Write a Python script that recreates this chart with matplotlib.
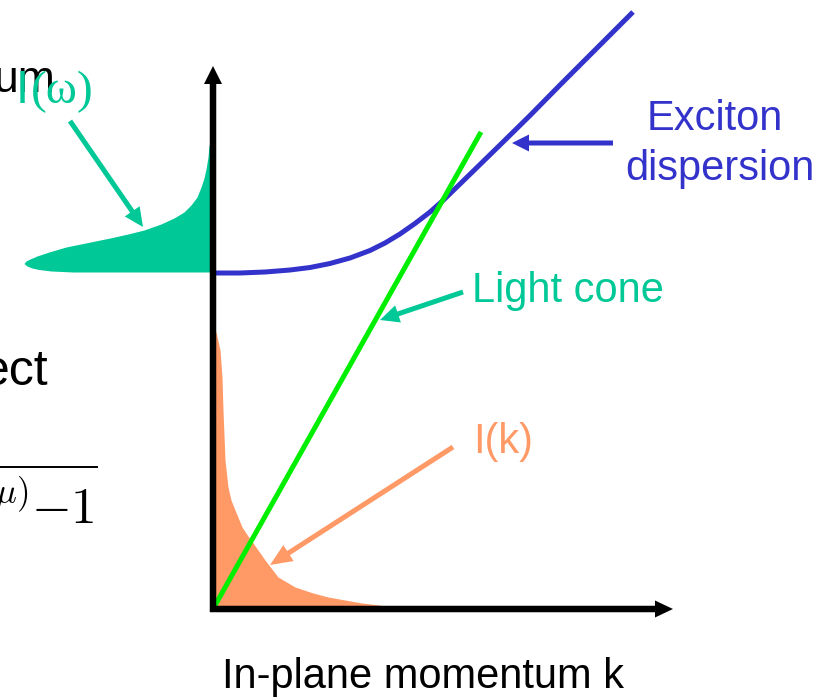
import matplotlib
matplotlib.use('Agg')
from matplotlib import pyplot as plt

plt.rcParams['font.family'] = ['Liberation Sans', 'DejaVu Sans']
plt.rcParams['mathtext.fontset'] = 'cm'

# exciton dispersion E(k), arbitrary units
exciton_k = [0.01, 0.27, 0.52, 0.77, 0.97, 1.17, 1.37, 1.57, 1.72, 1.87, 2.02, 2.17, 2.30,
             2.47, 2.67, 2.87, 3.17, 3.47, 3.87, 4.20]
exciton_e = [3.36, 3.36, 3.37, 3.39, 3.415, 3.455, 3.51, 3.585, 3.66, 3.75, 3.855, 3.97, 4.085,
             4.25, 4.445, 4.64, 4.935, 5.24, 5.64, 5.97]

# light cone E = c k
cone_k = [0.0, 2.68]
cone_e = [0.0, 4.77]

# emission spectrum I(w), drawn sideways against the energy axis
spec_e = [3.37, 3.38, 3.395, 3.41, 3.43, 3.455, 3.48, 3.50, 3.53, 3.57, 3.62, 3.665, 3.71,
          3.75, 3.79, 3.85, 3.91, 3.97, 4.04, 4.12, 4.22, 4.31, 4.40, 4.52, 4.64]
spec_i = [1.40, 1.62, 1.74, 1.81, 1.86, 1.89, 1.87, 1.83, 1.76, 1.64, 1.47, 1.25, 1.03,
          0.85, 0.69, 0.52, 0.39, 0.29, 0.22, 0.16, 0.12, 0.09, 0.07, 0.05, 0.04]

# population I(k) along the momentum axis
pop_k = [0.00, 0.03, 0.07, 0.09, 0.10, 0.12, 0.15, 0.18, 0.22, 0.29, 0.35, 0.40, 0.52, 0.65,
         0.82, 1.00, 1.15, 1.49, 1.82, 2.10]
pop_i = [2.79, 2.77, 2.59, 2.32, 1.99, 1.49, 1.22, 1.09, 0.99, 0.82, 0.73, 0.66, 0.49, 0.32,
         0.22, 0.16, 0.12, 0.06, 0.02, 0.00]

teal = '#00c896'
blue = '#3333cc'
orange = '#ff9966'
lime = '#00ee00'

fig = plt.figure(figsize=(8.35, 6.97), dpi=100)
ax = fig.add_axes([0, 0, 1, 1])
ax.set_xlim(-2.13, 6.22)
ax.set_ylim(-0.88, 6.09)
ax.axis('off')

ax.fill_betweenx(spec_e, [-v for v in spec_i], 0, color=teal, lw=0, zorder=1)
ax.fill_between(pop_k, 0, pop_i, color=orange, lw=0, zorder=1)

ax.plot(exciton_k, exciton_e, color=blue, lw=3.6, solid_capstyle='butt',
        solid_joinstyle='round', zorder=2)
ax.plot(cone_k, cone_e, color=lime, lw=3.6, solid_capstyle='butt', zorder=3)

# axes with arrow heads
ax.arrow(0, -0.03, 0, 5.46, width=0.065, head_width=0.18, head_length=0.18,
         length_includes_head=True, color='black', lw=0, zorder=4)
ax.arrow(-0.03, 0, 4.63, 0, width=0.065, head_width=0.17, head_length=0.18,
         length_includes_head=True, color='black', lw=0, zorder=4)


def pointer(x0, y0, x1, y1, color, hw=0.18, hl=0.19):
    ax.arrow(x0, y0, x1 - x0, y1 - y0, width=0.05, head_width=hw, head_length=hl,
             length_includes_head=True, color=color, lw=0, zorder=5)


pointer(-1.43, 4.88, -0.70, 3.82, teal)
pointer(2.50, 3.17, 1.67, 2.89, teal)
pointer(4.00, 4.66, 2.99, 4.66, blue, hw=0.17, hl=0.17)
pointer(2.40, 1.62, 0.57, 0.44, orange, hw=0.19, hl=0.22)

ax.text(5.02, 4.79, 'Exciton', color=blue, fontsize=30, ha='center', va='baseline')
ax.text(5.07, 4.29, 'dispersion', color=blue, fontsize=30, ha='center', va='baseline')
ax.text(2.59, 3.07, 'Light cone', color=teal, fontsize=30, ha='left', va='baseline')
ax.text(2.60, 1.56, 'I(k)', color=orange, fontsize=30, ha='left', va='baseline')
ax.text(2.095, -0.79, 'In-plane momentum k', color='black', fontsize=30, ha='center', va='baseline')

# slide text running in from the left edge
ax.text(-1.58, 5.17, 'um', color='black', fontsize=32, ha='right', va='baseline')
ax.text(-1.97, 5.06, 'I', color=teal, fontsize=34, ha='left', va='baseline')
ax.text(-1.82, 5.06, '(ω)', color=teal, fontsize=34, ha='left', va='baseline',
        family=['Liberation Serif', 'DejaVu Serif'])
ax.text(-1.64, 2.24, 'ect', color='black', fontsize=36, ha='right', va='baseline')
ax.plot([-2.2, -1.16], [1.42, 1.42], color='black', lw=1.4)
ax.text(-1.85, 1.06, r'$(\omega-\mu)$', color='black', fontsize=25, ha='right', va='baseline')
ax.text(-1.18, 0.86, r'$-1$', color='black', fontsize=37, ha='right', va='baseline')

fig.savefig('out.png', dpi=100)
